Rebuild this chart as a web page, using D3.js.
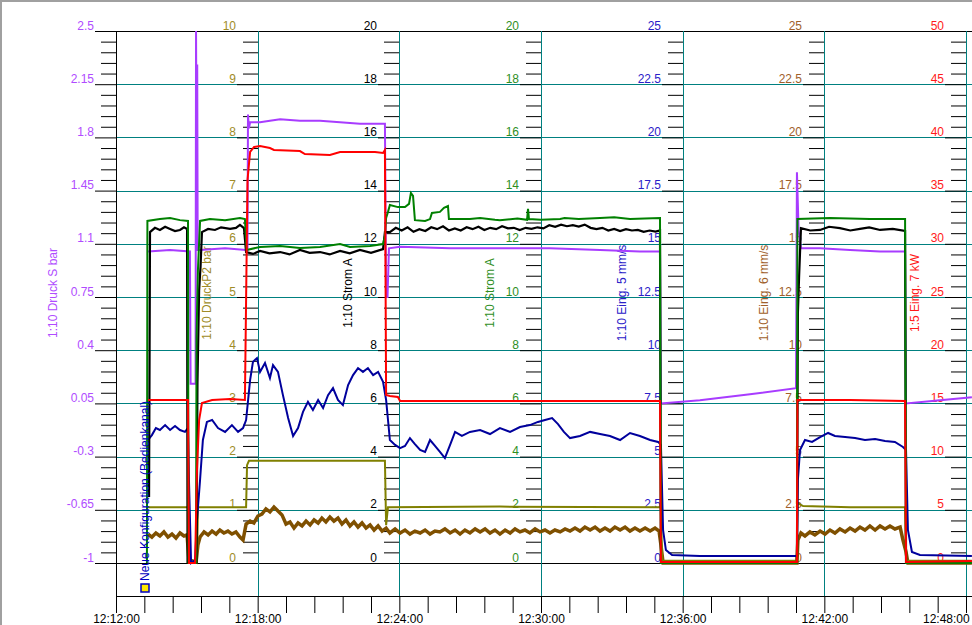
<!DOCTYPE html>
<html>
<head>
<meta charset="utf-8">
<script src="https://cdn.jsdelivr.net/npm/d3@7"></script>
<style>
  body { margin: 0; background: #fff; overflow: hidden; }
  svg { display: block; font-family: "Liberation Sans", Arial, sans-serif; }
</style>
</head>
<body>
<svg id="chart" width="972" height="625"></svg>
<script>
// time = minutes after 12:12:00, values in the units of each series' own axis
const timeLabels = ["12:12:00", "12:18:00", "12:24:00", "12:30:00", "12:36:00", "12:42:00", "12:48:00"];

const druckSTicks  = [-1, -0.65, -0.3, 0.05, 0.4, 0.75, 1.1, 1.45, 1.8, 2.15, 2.5];
const druckP2Ticks = [0, 1, 2, 3, 4, 5, 6, 7, 8, 9, 10];
const strom1Ticks  = [0, 2, 4, 6, 8, 10, 12, 14, 16, 18, 20];
const strom2Ticks  = [0, 2, 4, 6, 8, 10, 12, 14, 16, 18, 20];
const eing5Ticks   = [0, 2.5, 5, 7.5, 10, 12.5, 15, 17.5, 20, 22.5, 25];
const eing6Ticks   = [0, 2.5, 5, 7.5, 10, 12.5, 15, 17.5, 20, 22.5, 25];
const eing7Ticks   = [0, 5, 10, 15, 20, 25, 30, 35, 40, 45, 50];

const druckS = [[1.36,1.05],[2.29,1.06],[3.13,1.05],[3.16,0.18],[3.37,0.18],[3.39,2.5],[3.42,1.39],[3.44,2.28],[3.46,1.06],
  [3.56,1.06],[4.62,1.07],[5.51,1.06],[5.57,1.06],[5.59,1.95],[5.63,1.86],[5.68,1.9],[6.1,1.9],[6.52,1.91],[6.95,1.92],
  [7.79,1.91],[8.64,1.91],[9.49,1.9],[10.33,1.89],[11.31,1.89],[11.39,1.89],[11.44,0.75],[11.5,0.75],[11.56,1.07],
  [12.03,1.08],[14.15,1.07],[16.26,1.07],[18.38,1.07],[20.5,1.06],[22.19,1.05],[23.04,1.05],[23.08,0.05],[24.73,0.07],
  [26.85,0.11],[28.8,0.15],[28.84,1.57],[28.91,1.19],[29.01,1.07],[29.82,1.07],[31.09,1.06],[32.36,1.05],[33.42,1.05],
  [33.46,0.05],[34.9,0.07],[36.25,0.09]];

const druckP2 = [[1.36,1.05],[3.05,1.05],[3.09,0],[3.43,0],[3.47,1.05],[5.51,1.05],[5.55,1.84],[5.63,1.92],[7.79,1.92],
  [11.39,1.92],[11.44,0.71],[11.52,1.05],[16.26,1.06],[23.08,1.05],[23.13,0.04],[28.84,0.04],[28.86,1.13],[29.1,1.07],
  [31.09,1.05],[33.42,1.05],[33.46,0.04],[36.25,0.04]];

const strom1 = [[1.4,2.48],[1.44,12.44],[1.65,12.6],[1.86,12.52],[2.08,12.64],[2.29,12.56],[2.5,12.48],[2.71,12.52],
  [2.88,12.62],[3.01,12.56],[3.03,0],[3.41,0],[3.45,6.77],[3.52,10.26],[3.58,11.13],[3.64,12.44],[3.9,12.56],[4.19,12.52],
  [4.45,12.62],[4.83,12.56],[5.08,12.6],[5.25,12.71],[5.42,12.59],[5.51,11.69],[5.8,11.62],[6.1,11.73],[6.5,11.64],
  [6.95,11.69],[7.35,11.6],[7.79,11.77],[8.2,11.66],[8.64,11.69],[9.05,11.6],[9.49,11.73],[9.9,11.64],[10.33,11.77],
  [10.8,11.66],[11.31,11.8],[11.39,12.44],[11.6,12.44],[11.85,12.6],[12.1,12.5],[12.35,12.62],[12.6,12.45],[12.85,12.55],
  [13.1,12.48],[13.35,12.62],[13.6,12.55],[13.85,12.66],[14.1,12.5],[14.35,12.58],[14.6,12.5],[14.85,12.62],[15.1,12.55],
  [15.35,12.64],[15.6,12.52],[15.85,12.6],[16.1,12.55],[16.35,12.66],[16.6,12.58],[16.85,12.6],[17.1,12.52],[17.35,12.6],
  [17.6,12.56],[17.85,12.62],[18.1,12.58],[18.35,12.7],[18.6,12.64],[18.85,12.72],[19.1,12.66],[19.35,12.7],[19.6,12.65],
  [19.85,12.72],[20.1,12.6],[20.35,12.55],[20.6,12.6],[20.85,12.5],[21.1,12.56],[21.35,12.48],[21.6,12.55],[21.85,12.5],
  [22.1,12.52],[22.35,12.45],[22.6,12.5],[22.85,12.46],[23.04,12.5],[23.08,0],[28.84,0],[28.88,9.4],[28.93,10.75],
  [29.01,12.59],[29.4,12.5],[29.82,12.52],[30.2,12.64],[30.66,12.59],[31.1,12.5],[31.51,12.56],[31.9,12.62],[32.36,12.52],
  [32.9,12.56],[33.42,12.48],[33.46,0]];

const strom2 = [[1.31,0],[1.33,12.86],[1.86,12.93],[2.29,12.97],[2.71,12.89],[3.05,12.86],[3.07,0],[3.39,0],[3.41,8.5],
  [3.47,11.01],[3.56,12.86],[3.98,12.93],[4.62,12.89],[5.25,12.97],[5.46,12.93],[5.53,11.77],[6.1,11.88],[6.95,11.92],
  [7.79,11.84],[8.64,11.88],[9.49,11.99],[9.91,11.88],[10.76,11.92],[11.31,11.99],[11.39,12.29],[11.44,12.97],[11.52,13.2],
  [11.6,13.46],[11.94,13.38],[12.24,13.38],[12.41,13.5],[12.49,13.91],[12.58,13.8],[12.66,12.89],[13.09,12.86],[13.3,12.93],
  [13.38,13.16],[13.72,13.2],[13.89,13.35],[14.06,13.42],[14.1,12.93],[14.99,12.93],[15.42,12.97],[16.05,12.9],[16.26,12.89],
  [17.0,12.95],[17.41,12.9],[17.45,13.31],[17.49,12.93],[18.0,12.9],[18.81,12.93],[19.0,12.97],[19.6,12.93],[20.5,12.97],
  [21.1,13.0],[21.77,12.93],[22.4,12.95],[23.04,12.97],[23.08,0],[28.84,0],[28.86,12.93],[30.24,12.97],[31.93,12.93],
  [33.42,12.93],[33.46,0],[36.25,0]];

const eing5 = [[1.36,5.78],[1.52,6.01],[1.69,6.34],[1.86,6.25],[2.08,6.48],[2.29,6.25],[2.5,6.44],[2.71,6.25],[2.92,6.16],
  [3.05,6.34],[3.09,3.9],[3.18,0],[3.35,0.14],[3.43,2.02],[3.56,3.9],[3.68,5.78],[3.85,6.63],[4.07,6.72],[4.32,6.34],
  [4.62,6.16],[4.91,6.48],[5.17,6.16],[5.38,6.34],[5.51,6.72],[5.68,8.6],[5.8,9.45],[5.97,9.63],[6.1,8.98],[6.31,9.4],
  [6.52,8.69],[6.65,9.3],[6.86,8.98],[7.07,7.89],[7.29,6.81],[7.5,5.97],[7.71,6.34],[7.92,7.1],[8.13,7.57],[8.34,7.19],
  [8.56,7.66],[8.77,7.28],[8.98,7.89],[9.19,8.22],[9.4,7.66],[9.61,7.42],[9.83,8.36],[10.04,8.83],[10.25,9.16],[10.46,8.98],
  [10.67,9.16],[10.89,8.83],[11.1,8.98],[11.31,8.51],[11.44,7.66],[11.52,6.72],[11.6,5.78],[11.82,5.55],[12.03,5.4],
  [12.24,5.5],[12.45,5.87],[12.66,5.59],[12.88,5.31],[13.09,5.22],[13.3,5.78],[13.51,5.5],[13.72,5.22],[13.93,4.93],
  [14.15,5.55],[14.36,6.16],[14.65,5.97],[14.99,6.16],[15.42,6.25],[15.84,6.06],[16.26,6.34],[16.69,6.16],[17.11,6.39],
  [17.53,6.48],[17.87,6.63],[18.17,6.72],[18.47,6.81],[18.72,6.53],[18.97,6.16],[19.23,5.87],[19.65,5.97],[20.08,6.16],
  [20.5,6.06],[20.92,5.97],[21.35,5.78],[21.77,6.11],[22.19,5.97],[22.62,5.78],[22.96,5.69],[23.08,5.55],[23.17,1.55],
  [23.29,0.61],[23.55,0.38],[24.73,0.33],[28.84,0.33],[28.88,3.9],[28.97,5.31],[29.18,5.78],[29.48,5.69],[29.82,5.92],
  [30.16,6.11],[30.45,5.97],[30.88,5.92],[31.3,5.87],[31.72,5.78],[32.15,5.83],[32.57,5.73],[32.99,5.69],[33.33,5.45],
  [33.46,5.31],[33.54,1.55],[33.71,0.52],[34.05,0.38],[36.25,0.33]];

const eing6 = [[1.36,1.36],[1.52,1.22],[1.69,1.41],[1.86,1.27],[2.03,1.46],[2.2,1.22],[2.37,1.36],[2.54,1.17],[2.71,1.41],
  [2.88,1.27],[3.01,1.32],[3.09,0.14],[3.39,0.05],[3.47,0.85],[3.56,1.22],[3.73,1.46],[3.9,1.32],[4.07,1.5],[4.24,1.36],
  [4.4,1.55],[4.57,1.41],[4.74,1.5],[4.91,1.36],[5.08,1.46],[5.25,1.22],[5.38,1.08],[5.51,1.83],[5.68,1.97],[5.84,1.88],
  [6.01,2.21],[6.18,2.3],[6.35,2.54],[6.52,2.4],[6.69,2.63],[6.86,2.44],[7.03,2.26],[7.2,1.83],[7.37,1.93],[7.54,1.64],
  [7.71,1.88],[7.88,1.74],[8.05,1.97],[8.22,1.79],[8.39,2.02],[8.56,1.88],[8.72,2.11],[8.89,1.93],[9.06,2.16],[9.23,1.97],
  [9.4,2.11],[9.57,1.83],[9.74,2.02],[9.91,1.74],[10.08,1.93],[10.25,1.69],[10.42,1.88],[10.59,1.64],[10.76,1.79],
  [10.93,1.55],[11.1,1.74],[11.27,1.5],[11.44,1.64],[11.6,1.41],[11.82,1.6],[12.03,1.41],[12.24,1.55],[12.45,1.36],
  [12.66,1.5],[12.88,1.41],[13.09,1.55],[13.3,1.36],[13.51,1.5],[13.72,1.46],[13.93,1.6],[14.15,1.41],[14.36,1.55],
  [14.57,1.36],[14.78,1.55],[14.99,1.41],[15.21,1.6],[15.42,1.46],[15.63,1.6],[15.84,1.41],[16.05,1.55],[16.26,1.36],
  [16.48,1.55],[16.69,1.41],[16.9,1.6],[17.11,1.46],[17.32,1.55],[17.53,1.41],[17.75,1.6],[17.96,1.46],[18.17,1.55],
  [18.38,1.41],[18.59,1.55],[18.81,1.46],[19.02,1.6],[19.23,1.5],[19.44,1.64],[19.65,1.5],[19.86,1.69],[20.08,1.55],
  [20.29,1.69],[20.5,1.5],[20.71,1.64],[20.92,1.5],[21.13,1.69],[21.35,1.55],[21.56,1.69],[21.77,1.5],[21.98,1.64],
  [22.19,1.5],[22.41,1.64],[22.62,1.5],[22.83,1.64],[23.0,1.5],[23.08,0.85],[23.17,0],[28.84,0],[28.88,1.08],[29.01,1.41],
  [29.18,1.27],[29.39,1.46],[29.6,1.32],[29.82,1.5],[30.03,1.36],[30.24,1.55],[30.45,1.41],[30.66,1.6],[30.88,1.46],
  [31.09,1.64],[31.3,1.5],[31.51,1.69],[31.72,1.55],[31.93,1.74],[32.15,1.55],[32.36,1.74],[32.57,1.6],[32.78,1.74],
  [32.99,1.6],[33.21,1.69],[33.33,1.08],[33.46,0.52],[33.54,0],[36.25,0]];

const eing7 = [[1.36,15.32],[3.05,15.32],[3.09,0],[3.35,0],[3.43,8.74],[3.52,13.44],[3.64,15.04],[4.07,15.32],[4.83,15.41],
  [5.46,15.32],[5.51,24.72],[5.57,36.0],[5.68,38.63],[5.85,39.1],[6.1,39.19],[6.52,39.0],[6.69,38.82],[7.79,38.72],
  [8.0,38.44],[9.06,38.35],[9.49,38.63],[10.97,38.63],[11.31,38.53],[11.39,38.82],[11.44,15.79],[11.6,15.7],[11.94,15.6],
  [12.03,15.23],[16.26,15.23],[20.5,15.23],[23.04,15.23],[23.08,0.1],[28.84,0.1],[28.86,15.32],[31.09,15.32],[33.42,15.23],
  [33.46,0.09],[36.25,0.19]];

const width = 972, height = 625;
const plotTop = 31, plotBottom = 563, timeAxisY = 596;

const svg = d3.select("#chart");

const x = d3.scaleLinear().domain([0, 36]).range([116, 966]);

const axes = [
  {ticks: druckSTicks,  color: "#b04cff", title: "1:10 Druck S bar",   tx: 53},
  {ticks: druckP2Ticks, color: "#a08c28", title: "1:10 DruckP2 bar",   tx: 207},
  {ticks: strom1Ticks,  color: "#000000", title: "1:10 Strom A",       tx: 348},
  {ticks: strom2Ticks,  color: "#2f8f1f", title: "1:10 Strom A",       tx: 490},
  {ticks: eing5Ticks,   color: "#2a20c8", title: "1:10 Eing. 5 mm/s",  tx: 622},
  {ticks: eing6Ticks,   color: "#a0602a", title: "1:10 Eing. 6 mm/s",  tx: 764},
  {ticks: eing7Ticks,   color: "#ff1a1a", title: "1:5 Eing. 7 kW",     tx: 915}
];
axes.forEach(a => {
  a.y = d3.scaleLinear().domain([a.ticks[0], a.ticks[a.ticks.length - 1]]).range([plotBottom, plotTop]);
});

// frame of the window
svg.append("path")
  .attr("d", `M1,${height}V1H${width}`)
  .attr("fill", "none")
  .attr("stroke", "#a0a0a0")
  .attr("stroke-width", 2);

// horizontal grid (shared by all axes)
const gridY = axes[1].y;
svg.append("g")
  .selectAll("line")
  .data(druckP2Ticks)
  .join("line")
  .attr("x1", 116).attr("x2", width)
  .attr("y1", d => Math.round(gridY(d)) + 0.5)
  .attr("y2", d => Math.round(gridY(d)) + 0.5)
  .attr("stroke", (d, i) => (i === 0 || i === druckP2Ticks.length - 1) ? "#000" : "#008080");

// the seven value axes
axes.forEach((a, i) => {
  const ax = Math.round(x(i * 6)) + 0.5;
  const g = svg.append("g").attr("transform", `translate(${ax - 0.5},0)`);

  g.append("line")
    .attr("x1", 0.5).attr("x2", 0.5)
    .attr("y1", plotTop).attr("y2", i === 0 ? timeAxisY + 17 : timeAxisY)
    .attr("stroke", i === 0 ? "#000" : "#008080");

  const step = (a.ticks[1] - a.ticks[0]) / 5;
  const minor = d3.range(1, (a.ticks.length - 1) * 5).filter(k => k % 5).map(k => a.ticks[0] + k * step);

  g.append("g")
    .call(d3.axisLeft(a.y).tickValues(minor).tickSize(15).tickFormat(""))
    .call(s => s.select(".domain").remove())
    .attr("color", "#000");

  const major = g.append("g")
    .call(d3.axisLeft(a.y).tickValues(a.ticks).tickSize(21).tickPadding(1).tickFormat(d => String(d)))
    .call(s => s.select(".domain").remove())
    .attr("color", "#000")
    .attr("font-size", 12)
    .attr("font-family", "'Liberation Sans', Arial, sans-serif");
  major.selectAll("text").attr("fill", a.color).attr("dy", -2);

  svg.append("text")
    .attr("transform", `translate(${a.tx},293) rotate(-90)`)
    .attr("text-anchor", "middle")
    .attr("dominant-baseline", "central")
    .attr("font-size", 12)
    .attr("fill", a.color)
    .text(a.title);
});

// time axis
const tAxis = svg.append("g").attr("transform", `translate(0,${timeAxisY})`);
tAxis.append("line").attr("x1", 116).attr("x2", width).attr("y1", 0.5).attr("y2", 0.5).attr("stroke", "#000");
tAxis.call(d3.axisBottom(x)
    .tickValues(d3.range(0, 31).map(k => k * 1.2))
    .tickSize(17).tickPadding(1.5)
    .tickFormat(d => {
      const k = d / 6;
      return Math.abs(k - Math.round(k)) < 1e-6 ? timeLabels[Math.round(k)] : "";
    }))
  .call(s => s.select(".domain").remove())
  .attr("color", "#000")
  .attr("font-size", 12)
  .attr("font-family", "'Liberation Sans', Arial, sans-serif");
// keep the last time label inside the window
tAxis.selectAll(".tick text").each(function () {
  const b = this.getBBox();
  const m = this.parentNode.transform.baseVal.consolidate().matrix.e;
  const over = m + b.x + b.width - (width - 2);
  if (over > 0) d3.select(this).attr("x", -over);
});

// series
const series = [
  {data: eing6,   axis: 5, color: "#7f5000", w: 3.5},
  {data: druckP2, axis: 1, color: "#808000", w: 2},
  {data: eing5,   axis: 4, color: "#00009c", w: 2},
  {data: druckS,  axis: 0, color: "#a83cff", w: 2},
  {data: strom1,  axis: 2, color: "#000000", w: 2.2},
  {data: strom2,  axis: 3, color: "#008000", w: 2},
  {data: eing7,   axis: 6, color: "#ff0000", w: 2}
];

svg.append("clipPath").attr("id", "plot-clip")
  .append("rect").attr("x", 116).attr("y", plotTop - 1).attr("width", width - 116).attr("height", plotBottom - plotTop + 3);

const lines = svg.append("g").attr("clip-path", "url(#plot-clip)");
series.forEach(s => {
  const y = axes[s.axis].y;
  lines.append("path")
    .datum(s.data)
    .attr("fill", "none")
    .attr("stroke", s.color)
    .attr("stroke-width", s.w)
    .attr("stroke-linejoin", "miter")
    .attr("d", d3.line().x(d => x(d[0])).y(d => y(d[1])));
});

// event marker
const ev = svg.append("g").attr("transform", "translate(145,588)");
ev.append("rect").attr("x", -4).attr("y", -4).attr("width", 8).attr("height", 8)
  .attr("fill", "#ffe800").attr("stroke", "#0000c0").attr("stroke-width", 1.5);
ev.append("text")
  .attr("transform", "translate(0,-7) rotate(-90)")
  .attr("dominant-baseline", "central")
  .attr("font-size", 12)
  .attr("fill", "#0000c0")
  .text("Neue Konfiguration (Bedienkanal)");
</script>
</body>
</html>
